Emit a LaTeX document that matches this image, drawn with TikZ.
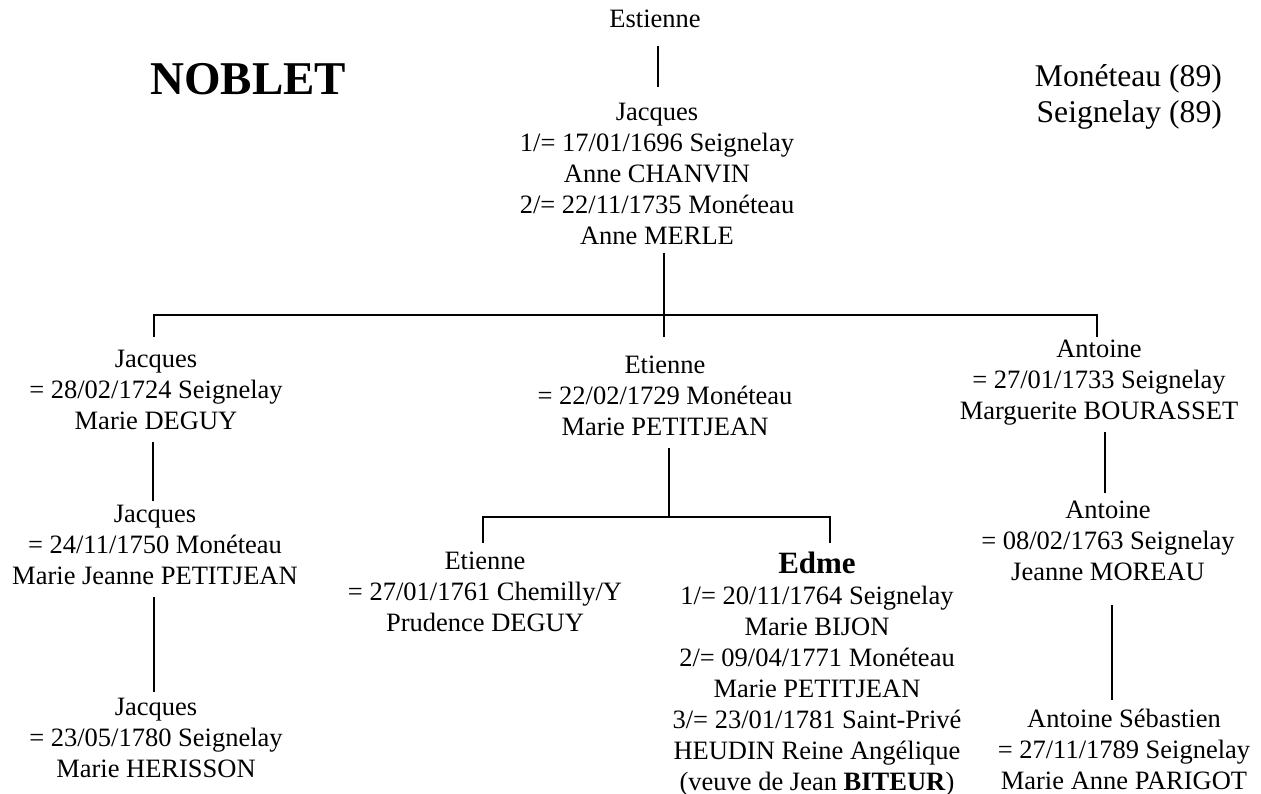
\documentclass[tikz,border=0pt]{standalone}
\usepackage{fontspec}
\setmainfont{Liberation Serif}
\usepackage{tikz}
\usetikzlibrary{positioning}

\begin{document}
\begin{tikzpicture}[
      x=1pt, y=-1pt,
      person/.style={align=center, inner sep=0pt, anchor=base,
        font=\fontsize{26.5}{31}\selectfont},
      link/.style={draw, line width=2pt},
    ]
    \useasboundingbox (0,0) rectangle (1261,794);

    \node[anchor=base west, inner sep=0pt, font=\fontsize{47}{54}\selectfont\bfseries] (title) at (150,95) {NOBLET};
    \node[anchor=base east, align=right, inner sep=0pt, font=\fontsize{31.6}{36}\selectfont] (places) at (1222,123) {Monéteau (89)\\Seignelay (89)};

    \node[person] (estienne0) at (655,28) {Estienne};
    \node[person] (jacques0) at (657,245) {Jacques\\1/= 17/01/1696 Seignelay\\Anne CHANVIN\\2/= 22/11/1735 Monéteau\\Anne MERLE};

    \node[person] (jacques1) at (156,429) {Jacques\\= 28/02/1724 Seignelay\\Marie DEGUY};
    \node[person] (etienne1) at (665,435) {Etienne\\= 22/02/1729 Monéteau\\Marie PETITJEAN};
    \node[person] (antoine1) at (1099,419) {Antoine\\= 27/01/1733 Seignelay\\Marguerite BOURASSET};

    \node[person] (jacques2) at (155,584) {Jacques\\= 24/11/1750 Monéteau\\Marie Jeanne PETITJEAN};
    \node[person] (etienne2) at (485,631) {Etienne\\= 27/01/1761 Chemilly/Y\\Prudence DEGUY};
    \node[person] (edme) at (817,790) {{\fontsize{31}{32}\selectfont\bfseries Edme}\\1/= 20/11/1764 Seignelay\\Marie BIJON\\2/= 09/04/1771 Monéteau\\Marie PETITJEAN\\3/= 23/01/1781 Saint-Privé\\HEUDIN Reine Angélique\\(veuve de Jean \textbf{BITEUR})};
    \node[person] (antoine2) at (1108,580) {Antoine\\= 08/02/1763 Seignelay\\Jeanne MOREAU};

    \node[person] (jacques3) at (156,777) {Jacques\\= 23/05/1780 Seignelay\\Marie HERISSON};
    \node[person] (antoine3) at (1124,789) {Antoine Sébastien\\= 27/11/1789 Seignelay\\Marie Anne PARIGOT};

    \draw[link] ([xshift=3pt,yshift=-18pt]estienne0.base) -- ([xshift=1pt,yshift=158pt]jacques0.base);
    \draw[link] ([xshift=7pt,yshift=-8pt]jacques0.base) -- ([xshift=-1pt,yshift=98pt]etienne1.base);
    \draw[link] ([xshift=-2pt,yshift=92pt]jacques1.base) -- ++(0,-22) -| ([xshift=-2pt,yshift=82pt]antoine1.base);

    \draw[link] ([xshift=-3pt,yshift=-13pt]jacques1.base) -- ([xshift=-2pt,yshift=83pt]jacques2.base);
    \draw[link] ([xshift=-1pt,yshift=-13pt]jacques2.base) -- ([xshift=-2pt,yshift=85pt]jacques3.base);

    \draw[link] ([xshift=4pt,yshift=-13pt]etienne1.base) -- ++(0,69) coordinate (fork2);
    \draw[link] ([xshift=-2pt,yshift=88pt]etienne2.base) |- (fork2) -| ([xshift=13pt,yshift=247pt]edme.base);

    \draw[link] ([xshift=6pt,yshift=-13pt]antoine1.base) -- ([xshift=-3pt,yshift=87pt]antoine2.base);
    \draw[link] ([xshift=4pt,yshift=-25pt]antoine2.base) -- ([xshift=-12pt,yshift=89pt]antoine3.base);
  \end{tikzpicture}
\end{document}
